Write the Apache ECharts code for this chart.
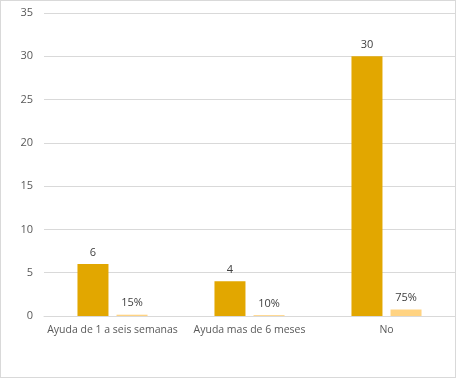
<!DOCTYPE html>
<html><head><meta charset="utf-8">
<script src="https://cdn.jsdelivr.net/npm/echarts@6/dist/echarts.min.js"></script>
<style>
html,body{margin:0;padding:0;background:#fff;}
#wrap{width:456px;height:378px;box-sizing:border-box;border:1px solid #d9d9d9;}
#c{width:454px;height:376px;}
</style></head><body>
<div id="wrap"><div id="c"></div></div>
<script>
const categories = ['Ayuda de 1 a seis semanas', 'Ayuda mas de 6 meses', 'No'];
const counts = [6, 4, 30];
const shares = [0.15, 0.10, 0.75];
const yTicks = [0, 5, 10, 15, 20, 25, 30, 35];

const chart = echarts.init(document.getElementById('c'), null, {renderer: 'canvas'});
const font = 'Open Sans, Noto Sans, sans-serif';
chart.setOption({
  animation: false,
  grid: {left: 43, right: 0, top: 12, bottom: 61, containLabel: false},
  xAxis: {
    type: 'category', data: categories,
    axisLine: {lineStyle: {color: '#d9d9d9'}},
    axisTick: {show: false},
    axisLabel: {color: '#595959', fontSize: 10.5, fontFamily: font, margin: 9, interval: 0}
  },
  yAxis: {
    type: 'value', min: yTicks[0], max: yTicks[yTicks.length - 1], interval: 5,
    axisLine: {show: false}, axisTick: {show: false},
    splitLine: {lineStyle: {color: '#d9d9d9'}},
    axisLabel: {color: '#595959', fontSize: 11, fontFamily: font, margin: 11}
  },
  series: [
    {
      type: 'bar', data: counts, barWidth: 31, barGap: '26%',
      itemStyle: {color: '#E2A700'},
      label: {show: true, position: 'top', color: '#404040', fontSize: 11, fontFamily: font, distance: 6}
    },
    {
      type: 'bar', data: shares, barWidth: 31,
      itemStyle: {color: '#FFD382'},
      label: {show: true, position: 'top', color: '#404040', fontSize: 11, fontFamily: font, distance: 6,
        formatter: p => Math.round(p.value * 100) + '%'}
    }
  ]
});
</script>
</body></html>
